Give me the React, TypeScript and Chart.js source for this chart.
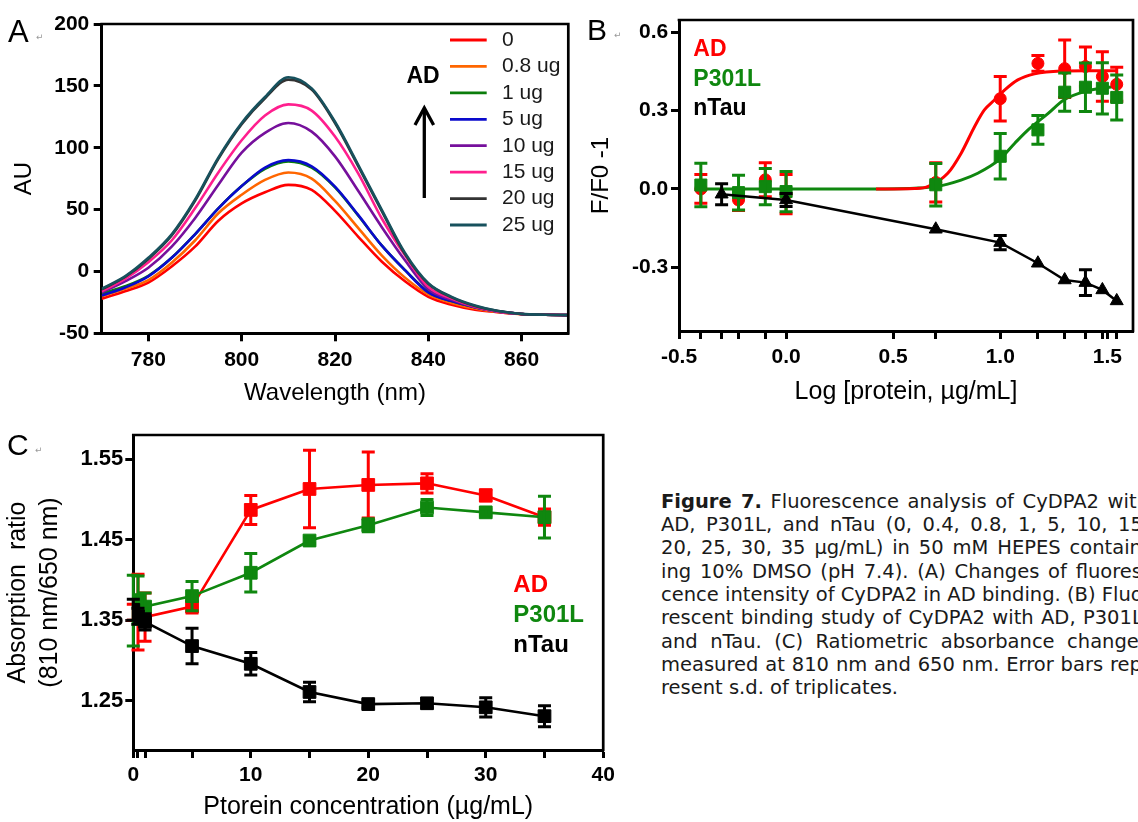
import React, { useEffect, useRef } from 'react';
import { Chart, registerables } from 'chart.js';

Chart.register(...registerables);

const FONT = '"Liberation Sans", Arial, Helvetica, sans-serif';

// ---------------- Panel A: emission spectra ----------------
const wavelengths = [770, 775, 780, 785, 790, 795, 800, 805, 810, 815, 820, 825, 830, 835, 840, 845, 850, 855, 860, 865, 870];
const au0 = [-22, -16, -9, 4, 20, 41, 55, 64, 70, 66, 49, 28, 8, -8, -20.5, -27, -31, -33, -34.5, -35, -35.5];
const au08 = [-20, -14, -7, 7, 25, 47, 62, 74, 80, 75, 57, 35, 13, -5, -18.5, -25.5, -30, -33, -34.5, -35, -35.3];
const au1 = [-18, -12, -3.5, 11, 30, 51, 69, 83, 89, 84, 68, 45, 21, 1, -16.5, -24, -29, -32.5, -34.4, -35, -35.3];
const au5 = [-19.5, -13, -4, 11, 30, 51, 69, 84, 90, 85, 68.5, 45.5, 21, 1, -17, -24, -29, -32.5, -34.4, -35, -35.3];
const au10 = [-17, -8, 3, 20, 43, 70, 96, 112, 120, 113, 93, 65, 36, 9, -14.5, -23, -29, -32.5, -34.4, -35, -35.3];
const au15 = [-16, -6, 7.5, 25, 51, 80, 106, 126, 135, 130, 109, 79, 43, 13, -12.5, -22, -28.5, -32.5, -34.4, -35, -35.3];
const au20 = [-14.5, -4.5, 10, 29, 57, 91, 119, 140, 155, 147, 120, 85, 49, 14, -10, -21, -28, -32, -34.4, -35, -35.3];
const au25 = [-14, -4, 11, 30, 58, 92, 120, 141, 157, 148, 121, 86, 50, 15, -9.5, -20.5, -27.5, -32, -34.3, -35, -35.3];
const spectra = [au0, au08, au1, au5, au10, au15, au20, au25];
const spectrumLabels = ['0', '0.8 ug', '1 ug', '5 ug', '10 ug', '15 ug', '20 ug', '25 ug'];
const spectrumColors = ['#ff0000', '#ff6600', '#0b7d0b', '#0a0acc', '#76109c', '#ff1f8e', '#333333', '#17515d'];
const aXTicks = [780, 800, 820, 840, 860];
const aYTicks = [-50, 0, 50, 100, 150, 200];

// ---------------- Panel B: binding (log scale) ----------------
const logConc = [-0.398, -0.222, -0.097, 0, 0.699, 1.0, 1.176, 1.301, 1.398, 1.477, 1.544];
const bAD = [0.0, -0.042, 0.035, -0.02, 0.025, 0.345, 0.48, 0.46, 0.468, 0.43, 0.4];
const bADErr = [0.055, 0.04, 0.065, 0.075, 0.075, 0.085, 0.03, 0.11, 0.075, 0.095, 0.065];
const bP301L = [0.015, -0.014, 0.009, -0.01, 0.016, 0.125, 0.226, 0.37, 0.389, 0.385, 0.35];
const bP301LErr = [0.083, 0.066, 0.069, 0.077, 0.081, 0.087, 0.055, 0.073, 0.093, 0.098, 0.086];
const logConcTau = [-0.301, 0, 0.699, 1.0, 1.176, 1.301, 1.398, 1.477, 1.544];
const bTau = [-0.02, -0.042, -0.154, -0.205, -0.284, -0.348, -0.358, -0.386, -0.428];
const bTauErr = [0.04, 0.025, 0, 0.027, 0, 0, 0.049, 0, 0];
const adFitX = [0.42, 0.6, 0.661, 0.755, 0.817, 0.88, 0.926, 0.973, 1.02, 1.082, 1.16, 1.285, 1.4, 1.544];
const adFitY = [0, 0.002, 0.009, 0.06, 0.136, 0.238, 0.302, 0.34, 0.378, 0.417, 0.44, 0.451, 0.452, 0.452];
const p301lFitX = [-0.4, 0.35, 0.6, 0.699, 0.817, 0.895, 0.997, 1.068, 1.13, 1.224, 1.297, 1.393, 1.545];
const p301lFitY = [0, 0, 0.003, 0.009, 0.034, 0.06, 0.113, 0.175, 0.226, 0.289, 0.34, 0.372, 0.394];
const bXMajor = [-0.5, 0, 0.5, 1.0, 1.5];
const bYTicks = [-0.3, 0, 0.3, 0.6];

// ---------------- Panel C: absorption ratio ----------------
const concC = [0, 0.4, 1, 5, 10, 15, 20, 25, 30, 35];
const cAD = [1.36, 1.36, 1.354, 1.367, 1.487, 1.513, 1.518, 1.52, 1.505, 1.478];
const cADErr = [0.01, 0.047, 0.03, 0.008, 0.018, 0.048, 0.041, 0.012, 0.007, 0.01];
const cP301L = [1.362, 1.375, 1.367, 1.38, 1.409, 1.449, 1.468, 1.49, 1.484, 1.478];
const cP301LErr = [0.044, 0.03, 0.017, 0.018, 0.024, 0.004, 0.008, 0.01, 0.004, 0.026];
const cTau = [1.363, 1.355, 1.348, 1.318, 1.296, 1.261, 1.246, 1.247, 1.242, 1.231];
const cTauErr = [0.013, 0.01, 0.01, 0.022, 0.014, 0.012, 0.005, 0.006, 0.012, 0.013];
const cXMajor = [0, 10, 20, 30, 40];
const cYTicks = [1.25, 1.35, 1.45, 1.55];

const seriesNames = ['AD', 'P301L', 'nTau'];
const seriesColors = ['#ff0000', '#0f870f', '#000000'];

const captionLines = [
  'Fluorescence analysis of CyDPA2 with',
  'AD, P301L, and nTau (0, 0.4, 0.8, 1, 5, 10, 15,',
  '20, 25, 30, 35 µg/mL) in 50 mM HEPES contain-',
  'ing 10% DMSO (pH 7.4). (A) Changes of fluores-',
  'cence intensity of CyDPA2 in AD binding. (B) Fluo-',
  'rescent binding study of CyDPA2 with AD, P301L,',
  'and nTau. (C) Ratiometric absorbance changes',
  'measured at 810 nm and 650 nm. Error bars rep-',
  'resent s.d. of triplicates.',
];

// ---------------- helpers ----------------
const pts = (xs: number[], ys: number[]) => xs.map((x, i) => ({ x, y: ys[i] }));
const uniqSorted = (arr: number[]) => Array.from(new Set(arr)).sort((a, b) => a - b);
const labelFor = (majors: number[], digits: number) => (v: number) => {
  const m = majors.find((t) => Math.abs(t - v) < 1e-6);
  return m === undefined ? '' : m.toFixed(digits);
};

function makeScale(o: any) {
  return {
    type: 'linear',
    min: o.min,
    max: o.max,
    afterBuildTicks: (s: any) => {
      s.ticks = o.ticks.map((v: number) => ({ value: v }));
    },
    afterFit: (s: any) => {
      if (o.width !== undefined) s.width = o.width;
      if (o.height !== undefined) s.height = o.height;
    },
    ticks: {
      autoSkip: false,
      maxRotation: 0,
      minRotation: 0,
      padding: o.tickPad,
      color: '#000',
      font: { family: FONT, size: o.tickSize || 21, weight: 'bold' },
      callback: (v: number) => o.label(v),
    },
    grid: { display: true, drawOnChartArea: false, drawTicks: true, tickLength: 8, tickWidth: 3, tickColor: '#000' },
    border: { display: true, width: 3, color: '#000' },
    title: {
      display: true,
      text: o.title,
      color: '#000',
      font: { family: FONT, size: o.titleSize, lineHeight: o.titleLH || 1.2 },
      padding: o.titlePad,
    },
  };
}

const framePlugin = {
  id: 'frame',
  afterDraw(chart: any) {
    const { left, right, top, bottom } = chart.chartArea;
    const ctx = chart.ctx;
    ctx.save();
    ctx.strokeStyle = '#000';
    ctx.lineWidth = 2.7;
    ctx.lineCap = 'square';
    ctx.beginPath();
    ctx.moveTo(left, top);
    ctx.lineTo(right, top);
    ctx.lineTo(right, bottom);
    ctx.stroke();
    ctx.restore();
  },
};

const errorBarPlugin = {
  id: 'errorBars',
  afterDatasetDraw(chart: any, args: any) {
    const ds = chart.data.datasets[args.index];
    if (!ds.errors) return;
    const xs = chart.scales.x;
    const ys = chart.scales.y;
    const ctx = chart.ctx;
    ctx.save();
    ctx.strokeStyle = ds.errorColor || ds.borderColor;
    ctx.lineWidth = 3;
    ds.data.forEach((p: any, i: number) => {
      const e = ds.errors[i];
      if (!e) return;
      const px = xs.getPixelForValue(p.x);
      const t = ys.getPixelForValue(p.y + e);
      const b = ys.getPixelForValue(p.y - e);
      const hw = 6.5;
      ctx.beginPath();
      ctx.moveTo(px, t);
      ctx.lineTo(px, b);
      ctx.moveTo(px - hw, t);
      ctx.lineTo(px + hw, t);
      ctx.moveTo(px - hw, b);
      ctx.lineTo(px + hw, b);
      ctx.stroke();
    });
    ctx.restore();
  },
};

const textPlugin = {
  id: 'texts',
  afterDraw(chart: any, _a: any, opts: any) {
    const ctx = chart.ctx;
    (opts.items || []).forEach((it: any) => {
      ctx.save();
      ctx.font = it.font;
      ctx.fillStyle = it.color || '#000';
      ctx.textAlign = it.align || 'left';
      ctx.textBaseline = it.baseline || 'middle';
      ctx.fillText(it.text, it.x, it.y);
      ctx.restore();
    });
  },
};

const spectraLegendPlugin = {
  id: 'spectraLegend',
  afterDraw(chart: any, _a: any, o: any) {
    const ctx = chart.ctx;
    ctx.save();
    chart.data.datasets.forEach((ds: any, i: number) => {
      const y = o.y0 + i * o.dy;
      ctx.strokeStyle = ds.borderColor;
      ctx.lineWidth = 2.8;
      ctx.beginPath();
      ctx.moveTo(o.x0, y);
      ctx.lineTo(o.x1, y);
      ctx.stroke();
      ctx.fillStyle = '#1a1a1a';
      ctx.font = `21px ${FONT}`;
      ctx.textAlign = 'left';
      ctx.textBaseline = 'middle';
      ctx.fillText(ds.label, o.textX, y);
    });
    // arrow
    ctx.strokeStyle = '#000';
    ctx.lineWidth = 3.3;
    ctx.beginPath();
    ctx.moveTo(o.arrowX, o.arrowBottom);
    ctx.lineTo(o.arrowX, o.arrowTop + 3);
    ctx.stroke();
    ctx.lineJoin = 'miter';
    ctx.beginPath();
    ctx.moveTo(o.arrowX - 9.3, o.arrowTop + 18);
    ctx.lineTo(o.arrowX, o.arrowTop + 1);
    ctx.lineTo(o.arrowX + 9.3, o.arrowTop + 18);
    ctx.stroke();
    ctx.restore();
  },
};

const baseOptions = {
  responsive: false,
  animation: false,
  devicePixelRatio: 1,
  events: [],
};

function configA() {
  return {
    type: 'scatter',
    data: {
      datasets: spectra.map((s, i) => ({
        label: spectrumLabels[i],
        data: pts(wavelengths, s),
        showLine: true,
        borderColor: spectrumColors[i],
        backgroundColor: spectrumColors[i],
        borderWidth: 2.6,
        pointRadius: 0,
        cubicInterpolationMode: 'monotone',
        order: spectra.length - 1 - i,
      })),
    },
    options: {
      ...baseOptions,
      layout: { padding: { top: 24, right: 11.7, left: 0, bottom: 0 } },
      scales: {
        x: makeScale({ min: 770, max: 870, ticks: aXTicks, label: labelFor(aXTicks, 0), height: 76.7, tickPad: 6, title: 'Wavelength (nm)', titleSize: 24, titlePad: { top: 0, bottom: 2.6 } }),
        y: makeScale({ min: -50, max: 200, ticks: aYTicks, label: labelFor(aYTicks, 0), width: 101.7, tickPad: 4.4, title: 'AU', titleSize: 24, titlePad: { top: 10.3, bottom: 0 } }),
      },
      plugins: {
        legend: { display: false },
        tooltip: { enabled: false },
        spectraLegend: { x0: 450, x1: 486.7, textX: 502, y0: 40, dy: 26.43, arrowX: 424.3, arrowTop: 107, arrowBottom: 198 },
        texts: {
          items: [
            { text: 'A', x: 8, y: 42, font: `31px ${FONT}`, baseline: 'alphabetic' },
            { text: '↵', x: 36, y: 40, font: '9px "DejaVu Sans"', color: '#999', baseline: 'alphabetic' },
            { text: 'AD', x: 406.5, y: 77, font: `bold 23px ${FONT}` },
          ],
        },
      },
    },
    plugins: [framePlugin, spectraLegendPlugin, textPlugin],
  };
}

function configB() {
  const [cAD_, cP_, cT_] = seriesColors;
  return {
    type: 'scatter',
    data: {
      datasets: [
        { label: seriesNames[2], data: pts(logConcTau, bTau), errors: bTauErr, showLine: true, borderColor: cT_, backgroundColor: cT_, borderWidth: 2.5, pointStyle: 'triangle', pointRadius: 7.5, pointBackgroundColor: cT_, pointBorderColor: cT_, pointBorderWidth: 1, order: 1 },
        { label: seriesNames[1], data: pts(logConc, bP301L), errors: bP301LErr, showLine: false, borderColor: cP_, backgroundColor: cP_, pointStyle: 'rect', pointRadius: 8.5, pointBackgroundColor: cP_, pointBorderColor: cP_, pointBorderWidth: 1, order: 2 },
        { label: seriesNames[0], data: pts(logConc, bAD), errors: bADErr, showLine: false, borderColor: cAD_, backgroundColor: cAD_, pointStyle: 'circle', pointRadius: 6, pointBackgroundColor: cAD_, pointBorderColor: cAD_, pointBorderWidth: 1, order: 3 },
        { label: 'AD fit', data: pts(adFitX, adFitY), showLine: true, borderColor: cAD_, borderWidth: 3, pointRadius: 0, cubicInterpolationMode: 'monotone', order: 4 },
        { label: 'P301L fit', data: pts(p301lFitX, p301lFitY), showLine: true, borderColor: cP_, borderWidth: 3, pointRadius: 0, cubicInterpolationMode: 'monotone', order: 5 },
      ],
    },
    options: {
      ...baseOptions,
      layout: { padding: { top: 20, right: 15, left: 0, bottom: 0 } },
      scales: {
        x: makeScale({ min: -0.5, max: 1.62, ticks: uniqSorted([...bXMajor, ...logConc, ...logConcTau]), label: labelFor(bXMajor, 1), height: 79, tickPad: 5.7, title: 'Log [protein, µg/mL]', titleSize: 25, titlePad: { top: 0, bottom: 3.3 } }),
        y: makeScale({ min: -0.543, max: 0.646, ticks: bYTicks, label: labelFor(bYTicks, 1), width: 99, tickPad: 2.7, title: 'F/F0 -1', titleSize: 24, titlePad: { top: 7.3, bottom: 0 } }),
      },
      plugins: {
        legend: { display: false },
        tooltip: { enabled: false },
        texts: {
          items: [
            { text: 'B', x: 7, y: 40, font: `30px ${FONT}`, baseline: 'alphabetic' },
            { text: '↵', x: 34, y: 38, font: '9px "DejaVu Sans"', color: '#999', baseline: 'alphabetic' },
            { text: seriesNames[0], x: 113.3, y: 49.5, font: `bold 23px ${FONT}`, color: seriesColors[0] },
            { text: seriesNames[1], x: 113.3, y: 79.3, font: `bold 23px ${FONT}`, color: seriesColors[1] },
            { text: seriesNames[2], x: 113.3, y: 108.3, font: `bold 23px ${FONT}`, color: seriesColors[2] },
          ],
        },
      },
    },
    plugins: [framePlugin, errorBarPlugin, textPlugin],
  };
}

function configC() {
  const [cAD_, cP_, cT_] = seriesColors;
  const common = { showLine: true, borderWidth: 2.6, pointStyle: 'rect', pointRadius: 9, pointBorderWidth: 1 };
  return {
    type: 'scatter',
    data: {
      datasets: [
        { ...common, label: seriesNames[2], data: pts(concC, cTau), errors: cTauErr, borderColor: cT_, backgroundColor: cT_, pointBackgroundColor: cT_, pointBorderColor: cT_, order: 1 },
        { ...common, label: seriesNames[1], data: pts(concC, cP301L), errors: cP301LErr, borderColor: cP_, backgroundColor: cP_, pointBackgroundColor: cP_, pointBorderColor: cP_, order: 2 },
        { ...common, label: seriesNames[0], data: pts(concC, cAD), errors: cADErr, borderColor: cAD_, backgroundColor: cAD_, pointBackgroundColor: cAD_, pointBorderColor: cAD_, order: 3 },
      ],
    },
    options: {
      ...baseOptions,
      layout: { padding: { top: 35, right: 14, left: 0, bottom: 0 } },
      scales: {
        x: makeScale({ min: 0, max: 40, ticks: uniqSorted([...cXMajor, ...concC]), label: labelFor(cXMajor, 0), height: 72, tickPad: 5.1, tickSize: 21, title: 'Ptorein concentration (µg/mL)', titleSize: 25, titlePad: { top: 0, bottom: 0 } }),
        y: makeScale({ min: 1.189, max: 1.58, ticks: cYTicks, label: labelFor(cYTicks, 2), width: 133.3, tickPad: 2, tickSize: 22, title: ['Absorption  ratio', '(810 nm/650 nm)'], titleSize: 25, titleLH: 1.27, titlePad: { top: 2.4, bottom: 0 } }),
      },
      plugins: {
        legend: { display: false },
        tooltip: { enabled: false },
        texts: {
          items: [
            { text: 'C', x: 7, y: 55, font: `30px ${FONT}`, baseline: 'alphabetic' },
            { text: '↵', x: 35, y: 53, font: '9px "DejaVu Sans"', color: '#999', baseline: 'alphabetic' },
            { text: seriesNames[0], x: 513.3, y: 185.7, font: `bold 24px ${FONT}`, color: seriesColors[0] },
            { text: seriesNames[1], x: 513.3, y: 215, font: `bold 24px ${FONT}`, color: seriesColors[1] },
            { text: seriesNames[2], x: 513.3, y: 245, font: `bold 24px ${FONT}`, color: seriesColors[2] },
          ],
        },
      },
    },
    plugins: [framePlugin, errorBarPlugin, textPlugin],
  };
}

function ChartBox({ make, left, top, width, height }: any) {
  const ref = useRef<HTMLCanvasElement>(null);
  useEffect(() => {
    const chart = new Chart(ref.current as HTMLCanvasElement, make());
    return () => chart.destroy();
  }, []);
  return (
    <canvas
      ref={ref}
      width={width}
      height={height}
      style={{ position: 'absolute', left, top, width, height }}
    />
  );
}

export default function App() {
  const lineH = 23.33;
  return (
    <div style={{ position: 'absolute', left: 0, top: 0, width: 1138, height: 822, overflow: 'hidden', background: '#fff' }}>
      <ChartBox make={configA} left={0} top={0} width={580} height={410} />
      <ChartBox make={configB} left={580} top={0} width={568} height={410} />
      <ChartBox make={configC} left={0} top={400} width={620} height={422} />
      {captionLines.map((line, i) => (
        <div
          key={i}
          style={{
            position: 'absolute',
            left: 661,
            top: 489.6 + i * lineH,
            width: 488,
            height: lineH,
            lineHeight: `${lineH}px`,
            fontFamily: '"DejaVu Sans", sans-serif',
            fontSize: 19.5,
            color: '#1a1a1a',
            whiteSpace: 'nowrap',
            textAlign: 'justify',
            textAlignLast: i === captionLines.length - 1 ? 'left' : 'justify',
          } as any}
        >
          {i === 0 ? (
            <>
              <b>Figure 7.</b> {line}
            </>
          ) : (
            line
          )}
        </div>
      ))}
    </div>
  );
}
